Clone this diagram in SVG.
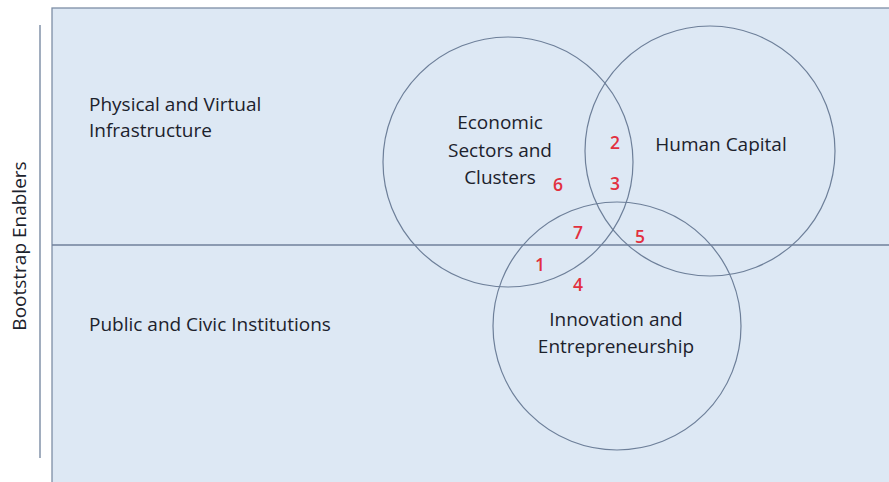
<svg xmlns="http://www.w3.org/2000/svg" width="889" height="482" viewBox="0 0 889 482">
  <style>
    .panel { fill: #dde8f4; stroke: #7d8ea6; stroke-width: 1.3; }
    .rule { stroke: #6f819b; stroke-width: 1.3; fill: none; }
    .ring { fill: none; stroke: #6d7f99; stroke-width: 1.2; }
    .lbl { font-family: "Open Sans", "Liberation Sans", Arial, sans-serif; font-size: 19px; fill: #1c222c; }
    .num { font-family: "Open Sans", "Liberation Sans", Arial, sans-serif; font-size: 17.5px; font-weight: 600; fill: #e2303f; text-anchor: middle; }
  </style>

  <rect width="889" height="482" fill="#ffffff"/>

  <!-- background panel split into two bands -->
  <g id="panel">
    <rect class="panel" x="52" y="8" width="845" height="480"/>
    <line class="rule" x1="52" y1="245" x2="889" y2="245"/>
  </g>

  <!-- side axis -->
  <g id="axis">
    <line class="rule" x1="40" y1="25" x2="40" y2="458"/>
    <text class="lbl" transform="translate(26 246) rotate(-90)" text-anchor="middle">Bootstrap Enablers</text>
  </g>

  <g id="band-top">
    <text class="lbl" x="89" y="111">Physical and Virtual</text>
    <text class="lbl" x="89" y="137">Infrastructure</text>
  </g>

  <g id="band-bottom">
    <text class="lbl" x="89" y="331">Public and Civic Institutions</text>
  </g>

  <g id="economic">
    <circle class="ring" cx="508" cy="162" r="125"/>
    <text class="lbl" text-anchor="middle" x="500" y="129">Economic</text>
    <text class="lbl" text-anchor="middle" x="500" y="157">Sectors and</text>
    <text class="lbl" text-anchor="middle" x="500" y="184">Clusters</text>
  </g>

  <g id="human">
    <circle class="ring" cx="710" cy="151" r="125"/>
    <text class="lbl" text-anchor="middle" x="721" y="151">Human Capital</text>
  </g>

  <g id="innovation">
    <circle class="ring" cx="617" cy="326" r="124"/>
    <text class="lbl" text-anchor="middle" x="616" y="326">Innovation and</text>
    <text class="lbl" text-anchor="middle" x="616" y="353">Entrepreneurship</text>
  </g>

  <!-- region numbers -->
  <g id="regions">
    <text class="num" x="615" y="149">2</text>
    <text class="num" x="615" y="190">3</text>
    <text class="num" x="558" y="191">6</text>
    <text class="num" x="578" y="239">7</text>
    <text class="num" x="640" y="243">5</text>
    <text class="num" x="540" y="271">1</text>
    <text class="num" x="578" y="291">4</text>
  </g>
</svg>
